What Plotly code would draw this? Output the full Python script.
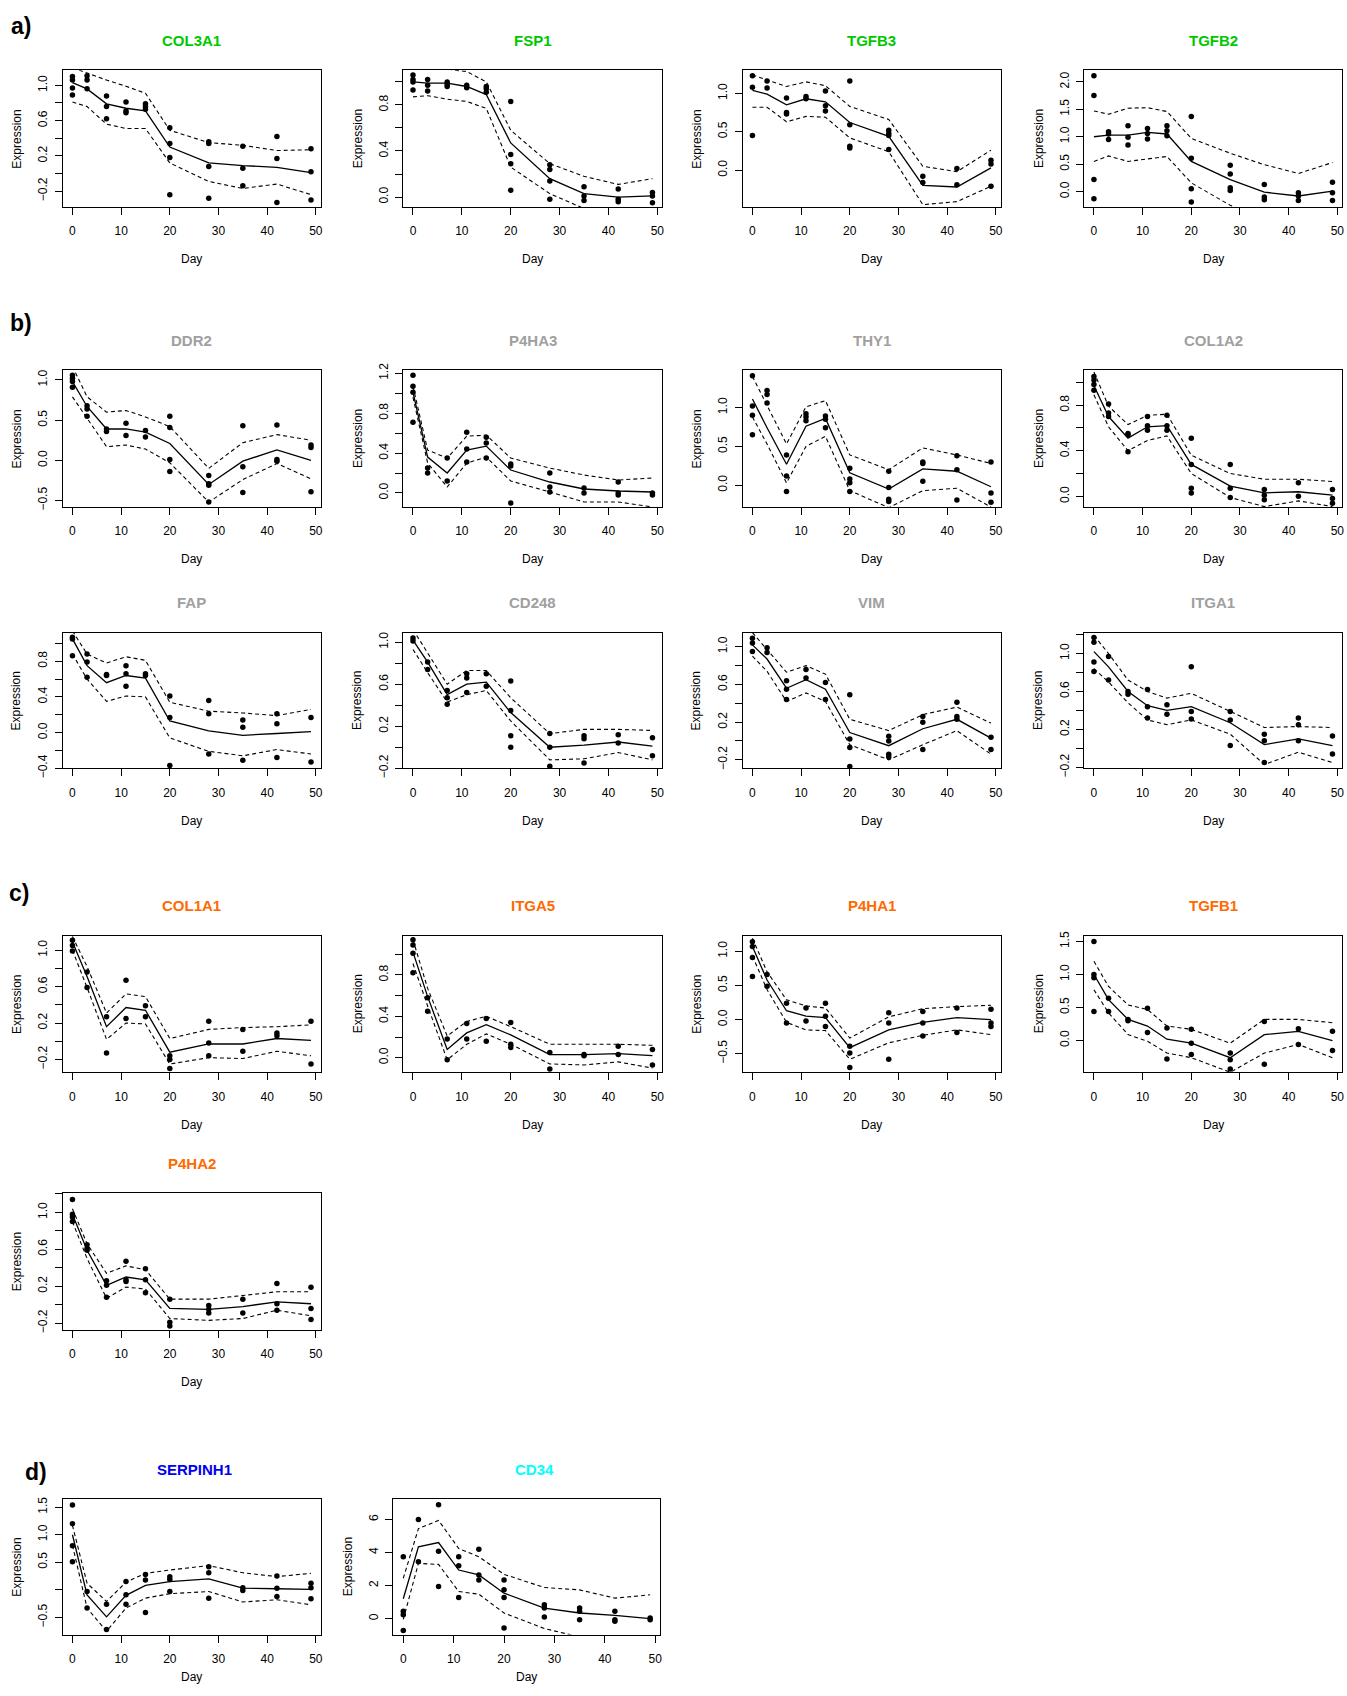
import plotly.graph_objects as go

# ---------------- data ----------------
DAYS = [0, 3, 7, 11, 15, 20, 28, 35, 42, 49]
X_TICKS = [0, 10, 20, 30, 40, 50]

COL3A1_mean = [1.03, 0.96, 0.79, 0.74, 0.71, 0.30, 0.12, 0.09, 0.07, 0.01]
COL3A1_upper = [1.20, 1.14, 1.06, 0.99, 0.91, 0.49, 0.35, 0.32, 0.26, 0.27]
COL3A1_lower = [0.81, 0.76, 0.56, 0.51, 0.51, 0.12, -0.09, -0.17, -0.12, -0.24]
COL3A1_points = [[1.10, 1.06, 0.97, 0.89], [1.11, 1.06, 0.96], [0.88, 0.76, 0.62], [0.81, 0.71, 0.69],
                 [0.79, 0.76, 0.73], [0.52, 0.34, 0.18, -0.24], [0.36, 0.34, 0.08, -0.28],
                 [0.31, 0.06, -0.14], [0.42, 0.17, -0.33], [0.28, 0.02, -0.30]]
COL3A1_yrange = [-0.38, 1.17]

FSP1_mean = [1.00, 0.99, 0.99, 0.96, 0.89, 0.47, 0.16, 0.03, 0.00, 0.01]
FSP1_upper = [1.11, 1.11, 1.11, 1.09, 1.00, 0.58, 0.29, 0.18, 0.11, 0.16]
FSP1_lower = [0.87, 0.88, 0.85, 0.83, 0.77, 0.26, 0.03, -0.10, -0.11, -0.13]
FSP1_points = [[1.06, 1.02, 1.00, 0.93], [1.02, 0.97, 0.92], [1.00, 0.98, 0.96], [0.97, 0.95],
               [0.96, 0.94, 0.91], [0.83, 0.37, 0.29, 0.06], [0.28, 0.24, 0.14, -0.02],
               [0.09, 0.01, -0.03], [0.07, -0.02, -0.04], [0.04, 0.01, -0.05]]
FSP1_yrange = [-0.086, 1.10]

TGFB3_mean = [1.04, 0.99, 0.85, 0.93, 0.89, 0.62, 0.44, -0.20, -0.22, 0.03]
TGFB3_upper = [1.24, 1.18, 1.09, 1.15, 1.10, 0.83, 0.66, 0.05, -0.02, 0.26]
TGFB3_lower = [0.82, 0.82, 0.63, 0.70, 0.69, 0.42, 0.24, -0.45, -0.41, -0.21]
TGFB3_points = [[1.23, 1.08, 0.45], [1.16, 1.07], [0.94, 0.75, 0.73], [0.96, 0.93],
                [1.03, 0.84, 0.77], [1.16, 0.59, 0.31, 0.29], [0.52, 0.48, 0.45, 0.27],
                [-0.08, -0.16], [0.02, -0.19], [0.13, 0.08, -0.21]]
TGFB3_yrange = [-0.48, 1.30]

TGFB2_mean = [1.00, 1.03, 1.03, 1.08, 1.05, 0.55, 0.22, -0.01, -0.08, 0.01]
TGFB2_upper = [1.47, 1.41, 1.52, 1.53, 1.46, 0.97, 0.70, 0.49, 0.33, 0.53]
TGFB2_lower = [0.55, 0.65, 0.55, 0.59, 0.64, 0.16, -0.25, -0.50, -0.60, -0.45]
TGFB2_points = [[2.11, 1.75, 0.22, -0.13], [1.09, 1.05, 0.95], [1.20, 0.99, 0.85], [1.15, 1.06, 0.96],
                [1.20, 1.11, 1.02], [1.37, 0.61, 0.05, -0.19], [0.48, 0.32, 0.07, 0.02],
                [0.13, -0.10, -0.15], [-0.02, -0.08, -0.16], [0.17, -0.02, -0.16]]
TGFB2_yrange = [-0.28, 2.21]

DDR2_mean = [0.98, 0.67, 0.39, 0.39, 0.35, 0.21, -0.30, -0.01, 0.13, 0.00]
DDR2_upper = [1.17, 0.79, 0.60, 0.62, 0.54, 0.42, -0.10, 0.22, 0.32, 0.25]
DDR2_lower = [0.79, 0.52, 0.17, 0.19, 0.14, -0.03, -0.52, -0.24, -0.04, -0.23]
DDR2_points = [[1.06, 1.02, 0.98, 0.91], [0.68, 0.64, 0.55], [0.39, 0.36], [0.46, 0.31],
               [0.37, 0.29], [0.55, 0.41, 0.01, -0.14], [-0.19, -0.29, -0.31, -0.52],
               [0.43, -0.08, -0.40], [0.44, 0.01, -0.01], [0.19, 0.16, -0.39]]
DDR2_yrange = [-0.58, 1.12]

P4HA3_mean = [1.01, 0.36, 0.20, 0.43, 0.47, 0.23, 0.11, 0.04, 0.02, 0.01]
P4HA3_upper = [1.07, 0.43, 0.35, 0.57, 0.58, 0.35, 0.25, 0.18, 0.13, 0.15]
P4HA3_lower = [0.96, 0.30, 0.06, 0.30, 0.36, 0.12, 0.01, -0.09, -0.09, -0.14]
P4HA3_points = [[1.18, 1.07, 1.01, 0.71], [0.25, 0.20], [0.35, 0.12], [0.61, 0.44, 0.31],
                [0.56, 0.50, 0.35], [0.29, 0.27, -0.10], [0.20, 0.06, 0.01], [0.05, 0.00],
                [0.11, 0.00, -0.02], [0.00, -0.02]]
P4HA3_yrange = [-0.14, 1.23]

THY1_mean = [1.11, 0.74, 0.27, 0.76, 0.86, 0.16, -0.05, 0.21, 0.18, -0.02]
THY1_upper = [1.40, 1.03, 0.53, 1.01, 1.09, 0.39, 0.20, 0.48, 0.39, 0.28]
THY1_lower = [0.88, 0.53, 0.03, 0.50, 0.63, -0.07, -0.29, -0.07, -0.04, -0.28]
THY1_points = [[1.41, 1.02, 0.90, 0.65], [1.22, 1.17, 1.06], [0.39, 0.12, -0.08], [0.92, 0.88, 0.83],
               [0.89, 0.85, 0.74], [0.22, 0.08, 0.03, -0.08], [0.18, -0.03, -0.18, -0.21],
               [0.30, 0.28, 0.05], [0.38, 0.20, -0.19], [0.30, -0.10, -0.22]]
THY1_yrange = [-0.28, 1.48]

COL1A2_mean = [0.97, 0.70, 0.51, 0.61, 0.62, 0.28, 0.09, 0.03, 0.04, 0.01]
COL1A2_upper = [1.09, 0.79, 0.63, 0.71, 0.72, 0.36, 0.20, 0.15, 0.15, 0.13]
COL1A2_lower = [0.89, 0.61, 0.40, 0.49, 0.53, 0.20, -0.01, -0.09, -0.04, -0.09]
COL1A2_points = [[1.05, 1.02, 0.98, 0.93], [0.81, 0.73, 0.70], [0.55, 0.54, 0.39], [0.70, 0.62, 0.58],
                 [0.71, 0.62, 0.58], [0.51, 0.28, 0.07, 0.03], [0.28, 0.07, -0.01],
                 [0.06, 0.01, -0.03], [0.12, 0.00], [0.06, -0.02, -0.06]]
COL1A2_yrange = [-0.093, 1.105]

FAP_mean = [1.05, 0.75, 0.56, 0.64, 0.61, 0.13, 0.02, -0.03, -0.01, 0.01]
FAP_upper = [1.14, 0.88, 0.78, 0.85, 0.81, 0.34, 0.24, 0.22, 0.19, 0.26]
FAP_lower = [0.88, 0.60, 0.35, 0.41, 0.40, -0.06, -0.21, -0.26, -0.19, -0.24]
FAP_points = [[1.07, 1.05, 0.86], [0.88, 0.79, 0.62], [0.65, 0.64], [0.75, 0.66, 0.52], [0.66, 0.64],
              [0.41, 0.17, -0.37], [0.36, 0.21, -0.24], [0.14, 0.06, -0.31], [0.21, 0.10, -0.28],
              [0.17, -0.33]]
FAP_yrange = [-0.40, 1.12]

CD248_mean = [1.02, 0.81, 0.50, 0.60, 0.62, 0.33, 0.00, 0.02, 0.05, 0.01]
CD248_upper = [1.12, 0.90, 0.60, 0.73, 0.73, 0.47, 0.13, 0.17, 0.17, 0.16]
CD248_lower = [0.93, 0.71, 0.43, 0.50, 0.54, 0.25, -0.12, -0.11, -0.05, -0.12]
CD248_points = [[1.04, 1.01], [0.81, 0.74], [0.54, 0.47, 0.41], [0.70, 0.66, 0.52], [0.70, 0.58],
                [0.63, 0.35, 0.11, 0.00], [0.13, 0.00, -0.18], [0.11, 0.08, -0.15], [0.12, 0.04],
                [0.09, -0.08]]
CD248_yrange = [-0.20, 1.09]

VIM_mean = [1.02, 0.87, 0.56, 0.65, 0.55, 0.09, -0.05, 0.13, 0.23, 0.03]
VIM_upper = [1.15, 0.97, 0.73, 0.80, 0.71, 0.23, 0.11, 0.28, 0.36, 0.19]
VIM_lower = [0.90, 0.74, 0.42, 0.51, 0.42, -0.04, -0.20, -0.04, 0.11, -0.14]
VIM_points = [[1.09, 1.04, 0.95], [0.99, 0.94], [0.64, 0.55, 0.44], [0.76, 0.67], [0.62, 0.44],
              [0.49, 0.02, -0.07, -0.27], [0.05, 0.00, -0.14, -0.17], [0.26, 0.20, -0.09],
              [0.41, 0.26, 0.23], [0.04, -0.09]]
VIM_yrange = [-0.29, 1.15]

ITGA1_mean = [1.02, 0.86, 0.60, 0.45, 0.40, 0.44, 0.27, 0.04, 0.10, 0.03]
ITGA1_upper = [1.19, 1.00, 0.72, 0.60, 0.53, 0.58, 0.39, 0.22, 0.23, 0.22]
ITGA1_lower = [0.84, 0.70, 0.48, 0.30, 0.25, 0.30, 0.15, -0.17, -0.04, -0.15]
ITGA1_points = [[1.17, 1.12, 0.91, 0.81], [0.97, 0.72], [0.60, 0.57], [0.62, 0.44, 0.32], [0.46, 0.36],
                [0.86, 0.39, 0.31], [0.39, 0.30, 0.03], [0.15, 0.08, -0.15], [0.32, 0.25, 0.08],
                [0.13, -0.06]]
ITGA1_yrange = [-0.21, 1.22]

COL1A1_mean = [1.09, 0.71, 0.16, 0.37, 0.34, -0.12, -0.03, -0.03, 0.03, 0.01]
COL1A1_upper = [1.15, 0.82, 0.31, 0.52, 0.49, 0.03, 0.13, 0.15, 0.16, 0.18]
COL1A1_lower = [1.00, 0.59, 0.02, 0.20, 0.19, -0.25, -0.18, -0.19, -0.11, -0.16]
COL1A1_points = [[1.11, 1.05, 0.99], [0.76, 0.59], [0.27, -0.13], [0.67, 0.25], [0.39, 0.27],
                 [-0.16, -0.20, -0.30], [0.22, -0.02, -0.16], [0.13, -0.11], [0.09, 0.06],
                 [0.22, -0.25]]
COL1A1_yrange = [-0.34, 1.16]

ITGA5_mean = [1.02, 0.59, 0.08, 0.24, 0.32, 0.22, 0.03, 0.03, 0.04, 0.02]
ITGA5_upper = [1.14, 0.67, 0.21, 0.35, 0.40, 0.30, 0.13, 0.13, 0.13, 0.12]
ITGA5_lower = [0.91, 0.50, -0.02, 0.13, 0.23, 0.13, -0.06, -0.07, -0.04, -0.10]
ITGA5_points = [[1.14, 1.09, 1.01, 0.82], [0.58, 0.45], [0.18, -0.02], [0.33, 0.18], [0.38, 0.16],
                [0.34, 0.13, 0.10], [0.05, -0.11], [0.02, 0.03], [0.11, 0.03], [0.08, -0.07]]
ITGA5_yrange = [-0.14, 1.18]

P4HA1_mean = [1.07, 0.58, 0.13, 0.05, 0.03, -0.41, -0.15, -0.04, 0.03, 0.00]
P4HA1_upper = [1.19, 0.70, 0.29, 0.20, 0.17, -0.27, 0.04, 0.16, 0.19, 0.21]
P4HA1_lower = [0.93, 0.44, -0.04, -0.15, -0.16, -0.58, -0.34, -0.23, -0.15, -0.22]
P4HA1_points = [[1.14, 1.07, 0.91, 0.63], [0.66, 0.49], [0.24, -0.05], [0.17, -0.02],
                [0.24, 0.05, -0.10], [-0.39, -0.49, -0.70], [0.10, -0.05, -0.58],
                [0.12, -0.05, -0.24], [0.17, -0.19], [0.15, -0.05, -0.10]]
P4HA1_yrange = [-0.77, 1.23]

TGFB1_mean = [1.00, 0.62, 0.32, 0.22, 0.02, -0.04, -0.26, 0.09, 0.14, 0.00]
TGFB1_upper = [1.20, 0.82, 0.54, 0.47, 0.22, 0.17, -0.04, 0.32, 0.32, 0.27]
TGFB1_lower = [0.77, 0.42, 0.09, -0.01, -0.19, -0.26, -0.48, -0.19, -0.06, -0.26]
TGFB1_points = [[1.50, 1.00, 0.95, 0.44], [0.64, 0.44], [0.32, 0.30], [0.49, 0.12], [0.19, -0.28],
                [0.17, -0.04, -0.21], [-0.19, -0.29, -0.43], [0.29, -0.36], [0.18, -0.06],
                [0.14, -0.15]]
TGFB1_yrange = [-0.48, 1.59]

P4HA2_mean = [0.98, 0.59, 0.21, 0.30, 0.27, -0.04, -0.05, -0.02, 0.03, 0.01]
P4HA2_upper = [1.04, 0.66, 0.34, 0.42, 0.38, 0.06, 0.06, 0.10, 0.14, 0.14]
P4HA2_lower = [0.90, 0.50, 0.07, 0.19, 0.17, -0.15, -0.17, -0.15, -0.06, -0.12]
P4HA2_points = [[1.14, 0.98, 0.95, 0.90], [0.65, 0.61, 0.59], [0.26, 0.21, 0.08], [0.47, 0.27, 0.25],
                [0.39, 0.27, 0.13], [0.06, -0.19, -0.23], [-0.01, -0.05, -0.09], [0.06, -0.09],
                [0.23, 0.01, -0.06], [0.19, -0.04, -0.16]]
P4HA2_yrange = [-0.27, 1.21]

SERPINH1_mean = [1.00, -0.09, -0.49, -0.10, 0.08, 0.15, 0.20, 0.03, 0.02, 0.01]
SERPINH1_upper = [1.17, 0.12, -0.21, 0.14, 0.30, 0.36, 0.44, 0.31, 0.24, 0.30]
SERPINH1_lower = [0.81, -0.33, -0.75, -0.33, -0.15, -0.07, -0.03, -0.22, -0.18, -0.27]
SERPINH1_points = [[1.54, 1.20, 0.80, 0.51], [-0.03, -0.33], [-0.26, -0.72], [0.15, -0.09, -0.26],
                   [0.28, 0.18, -0.41], [0.24, 0.19, -0.03], [0.42, 0.31, -0.15], [0.04, -0.01],
                   [0.25, 0.03, -0.12], [0.12, 0.04, -0.16]]
SERPINH1_yrange = [-0.81, 1.65]

CD34_mean = [1.20, 4.34, 4.60, 2.94, 2.64, 1.54, 0.64, 0.34, 0.20, 0.00]
CD34_upper = [2.44, 5.44, 5.94, 4.24, 3.74, 2.68, 1.88, 1.74, 1.24, 1.44]
CD34_lower = [-0.05, 3.34, 3.28, 1.64, 1.48, 0.34, -0.60, -1.10, -1.30, -1.50]
CD34_points = [[3.74, 0.44, 0.24, -0.72], [6.00, 3.44], [6.88, 4.08, 1.94], [3.74, 3.20, 1.28],
               [4.20, 2.64, 2.34], [2.34, 1.74, 1.28, -0.56], [0.84, 0.64, 0.10], [0.64, 0.44, -0.06],
               [0.44, -0.06, -0.16], [0.04, -0.06]]
CD34_yrange = [-0.96, 7.24]

# y tick values and labels
TICKS_M02_10 = [-0.2, 0.0, 0.2, 0.4, 0.6, 0.8, 1.0, 1.2]
LABELS_M02_10 = ["\u22120.2", "", "0.2", "", "0.6", "", "1.0", ""]
TICKS_00_08 = [0.0, 0.2, 0.4, 0.6, 0.8, 1.0, 1.2]
LABELS_00_08 = ["0.0", "", "0.4", "", "0.8", "", ""]
TICKS_00_12 = [0.0, 0.2, 0.4, 0.6, 0.8, 1.0, 1.2]
LABELS_00_12 = ["0.0", "", "0.4", "", "0.8", "", "1.2"]
TICKS_M04_08 = [-0.4, -0.2, 0.0, 0.2, 0.4, 0.6, 0.8, 1.0]
LABELS_M04_08 = ["\u22120.4", "", "0.0", "", "0.4", "", "0.8", ""]
TICKS_HALF = [-0.5, 0.0, 0.5, 1.0, 1.5, 2.0]
LABELS_HALF = ["\u22120.5", "0.0", "0.5", "1.0", "1.5", "2.0"]
LABELS_HALF_NO0 = ["\u22120.5", "", "0.5", "1.0", "1.5", "2.0"]
TICKS_CD34 = [0, 2, 4, 6]
LABELS_CD34 = ["0", "2", "4", "6"]

GREEN = "#00C800"
GREY = "#A0A0A0"
ORANGE = "#FF6A00"
BLUE = "#0000F0"
CYAN = "#00FFFF"

# ---------------- panel layout (pixels) ----------------
COLS = [(63, 321), (404, 663), (744, 1002), (1086, 1344)]
# (box top, box bottom, gap from box bottom to "Day")
ROWS = [(64, 202, 53), (367, 505, 53), (632, 769, 53), (938, 1076, 53), (1198, 1336, 53), (1507, 1644, 43)]

panels = [
    ("COL3A1", GREEN, COL3A1_mean, COL3A1_upper, COL3A1_lower, COL3A1_points, COL3A1_yrange, TICKS_M02_10, LABELS_M02_10, COLS[0], ROWS[0], 0),
    ("FSP1", GREEN, FSP1_mean, FSP1_upper, FSP1_lower, FSP1_points, FSP1_yrange, TICKS_00_08, LABELS_00_08, COLS[1], ROWS[0], 0),
    ("TGFB3", GREEN, TGFB3_mean, TGFB3_upper, TGFB3_lower, TGFB3_points, TGFB3_yrange, TICKS_HALF, LABELS_HALF, COLS[2], ROWS[0], 0),
    ("TGFB2", GREEN, TGFB2_mean, TGFB2_upper, TGFB2_lower, TGFB2_points, TGFB2_yrange, TICKS_HALF, LABELS_HALF, COLS[3], ROWS[0], 0),
    ("DDR2", GREY, DDR2_mean, DDR2_upper, DDR2_lower, DDR2_points, DDR2_yrange, TICKS_HALF, LABELS_HALF, COLS[0], ROWS[1], 0),
    ("P4HA3", GREY, P4HA3_mean, P4HA3_upper, P4HA3_lower, P4HA3_points, P4HA3_yrange, TICKS_00_12, LABELS_00_12, COLS[1], ROWS[1], 0),
    ("THY1", GREY, THY1_mean, THY1_upper, THY1_lower, THY1_points, THY1_yrange, TICKS_HALF, LABELS_HALF, COLS[2], ROWS[1], 0),
    ("COL1A2", GREY, COL1A2_mean, COL1A2_upper, COL1A2_lower, COL1A2_points, COL1A2_yrange, TICKS_00_08, LABELS_00_08, COLS[3], ROWS[1], 0),
    ("FAP", GREY, FAP_mean, FAP_upper, FAP_lower, FAP_points, FAP_yrange, TICKS_M04_08, LABELS_M04_08, COLS[0], ROWS[2], 0),
    ("CD248", GREY, CD248_mean, CD248_upper, CD248_lower, CD248_points, CD248_yrange, TICKS_M02_10, LABELS_M02_10, COLS[1], ROWS[2], 0),
    ("VIM", GREY, VIM_mean, VIM_upper, VIM_lower, VIM_points, VIM_yrange, TICKS_M02_10, LABELS_M02_10, COLS[2], ROWS[2], 0),
    ("ITGA1", GREY, ITGA1_mean, ITGA1_upper, ITGA1_lower, ITGA1_points, ITGA1_yrange, TICKS_M02_10, LABELS_M02_10, COLS[3], ROWS[2], 0),
    ("COL1A1", ORANGE, COL1A1_mean, COL1A1_upper, COL1A1_lower, COL1A1_points, COL1A1_yrange, TICKS_M02_10, LABELS_M02_10, COLS[0], ROWS[3], 0),
    ("ITGA5", ORANGE, ITGA5_mean, ITGA5_upper, ITGA5_lower, ITGA5_points, ITGA5_yrange, TICKS_00_08, LABELS_00_08, COLS[1], ROWS[3], 0),
    ("P4HA1", ORANGE, P4HA1_mean, P4HA1_upper, P4HA1_lower, P4HA1_points, P4HA1_yrange, TICKS_HALF, LABELS_HALF, COLS[2], ROWS[3], 0),
    ("TGFB1", ORANGE, TGFB1_mean, TGFB1_upper, TGFB1_lower, TGFB1_points, TGFB1_yrange, TICKS_HALF, LABELS_HALF, COLS[3], ROWS[3], 0),
    ("P4HA2", ORANGE, P4HA2_mean, P4HA2_upper, P4HA2_lower, P4HA2_points, P4HA2_yrange, TICKS_M02_10, LABELS_M02_10, COLS[0], ROWS[4], 0),
    ("SERPINH1", BLUE, SERPINH1_mean, SERPINH1_upper, SERPINH1_lower, SERPINH1_points, SERPINH1_yrange, TICKS_HALF, LABELS_HALF_NO0, COLS[0], ROWS[5], 3),
    ("CD34", CYAN, CD34_mean, CD34_upper, CD34_lower, CD34_points, CD34_yrange, TICKS_CD34, LABELS_CD34, (394, 661), ROWS[5], 8),
]

LETTERS = [("a)", 21, 19), ("b)", 21, 319), ("c)", 19, 895), ("d)", 36, 1480)]

W, H = 1347, 1696
FONT = "Liberation Sans, Arial, Helvetica, sans-serif"

fig = go.Figure()
layout = dict(
    width=W, height=H, margin=dict(l=0, r=0, t=0, b=0),
    paper_bgcolor="white", plot_bgcolor="white", showlegend=False,
    font=dict(family=FONT, size=12, color="black"),
)
annotations = []

for i, (name, color, mean, upper, lower, pts, yr, tv, tt, (xl, xr), (yt, yb, dgap), tdx) in enumerate(panels):
    k = "" if i == 0 else str(i + 1)
    xa, ya = "x" + k, "y" + k
    px, py = [], []
    for d, vals in zip(DAYS, pts):
        for v in vals:
            px.append(d)
            py.append(v)
    fig.add_trace(go.Scatter(x=px, y=py, mode="markers", xaxis=xa, yaxis=ya,
                             marker=dict(size=5.5, color="black"), hoverinfo="skip", cliponaxis=True))
    fig.add_trace(go.Scatter(x=DAYS, y=mean, mode="lines", xaxis=xa, yaxis=ya,
                             line=dict(color="black", width=1.3), hoverinfo="skip"))
    for band in (upper, lower):
        fig.add_trace(go.Scatter(x=DAYS, y=band, mode="lines", xaxis=xa, yaxis=ya,
                                 line=dict(color="black", width=1.1, dash="4px,3px"), hoverinfo="skip"))
    common = dict(showline=True, mirror=True, linecolor="black", linewidth=1,
                  ticks="outside", ticklen=7, tickwidth=1, tickcolor="black",
                  showgrid=False, zeroline=False, tickfont=dict(family=FONT, size=12, color="black"),
                  fixedrange=True)
    layout["xaxis" + k] = dict(domain=[xl / W, xr / W], anchor=ya, range=[-1.96, 50.96],
                               tickvals=X_TICKS, ticktext=[str(t) for t in X_TICKS],
                               ticklabelstandoff=6, **common)
    layout["yaxis" + k] = dict(domain=[1 - yb / H, 1 - yt / H], anchor=xa, range=yr,
                               tickvals=tv, ticktext=tt, tickangle=-90,
                               ticklabelstandoff=3, **common)
    cx = (xl + xr) / 2
    annotations.append(dict(text="<b>%s</b>" % name, x=(cx + tdx) / W, y=1 - (yt - 30) / H,
                            xref="paper", yref="paper", showarrow=False,
                            font=dict(family=FONT, size=15, color=color),
                            xanchor="center", yanchor="middle"))
    annotations.append(dict(text="Day", x=cx / W, y=1 - (yb + dgap) / H,
                            xref="paper", yref="paper", showarrow=False,
                            font=dict(family=FONT, size=12, color="black"),
                            xanchor="center", yanchor="middle"))
    annotations.append(dict(text="Expression", x=(xl - 46) / W, y=1 - ((yt + yb) / 2) / H,
                            xref="paper", yref="paper", showarrow=False, textangle=-90,
                            font=dict(family=FONT, size=12, color="black"),
                            xanchor="center", yanchor="middle"))

for txt, lx, ly in LETTERS:
    annotations.append(dict(text="<b>%s</b>" % txt, x=lx / W, y=1 - ly / H,
                            xref="paper", yref="paper", showarrow=False,
                            font=dict(family=FONT, size=23, color="black"),
                            xanchor="center", yanchor="middle"))

layout["annotations"] = annotations
fig.update_layout(**layout)
fig.write_html("out.html", config={"displayModeBar": False},
               post_script="document.body.style.margin='0';document.body.style.overflow='hidden';")
